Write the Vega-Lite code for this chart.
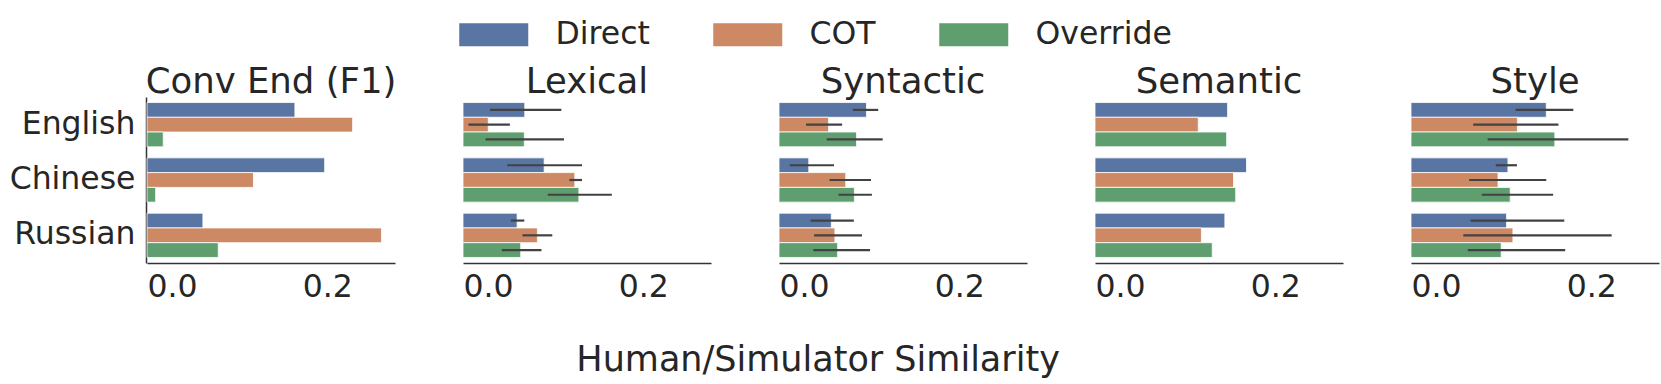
{
  "$schema": "https://vega.github.io/schema/vega-lite/v6.json",
  "padding": {"left": 9, "top": 18, "right": 7, "bottom": 5},
  "data": {"values": [
    {"panel": "Conv End (F1)", "lang": "English", "method": "Direct", "value": 0.164},
    {"panel": "Conv End (F1)", "lang": "English", "method": "COT", "value": 0.228},
    {"panel": "Conv End (F1)", "lang": "English", "method": "Override", "value": 0.018},
    {"panel": "Conv End (F1)", "lang": "Chinese", "method": "Direct", "value": 0.197},
    {"panel": "Conv End (F1)", "lang": "Chinese", "method": "COT", "value": 0.118},
    {"panel": "Conv End (F1)", "lang": "Chinese", "method": "Override", "value": 0.0096},
    {"panel": "Conv End (F1)", "lang": "Russian", "method": "Direct", "value": 0.062},
    {"panel": "Conv End (F1)", "lang": "Russian", "method": "COT", "value": 0.260},
    {"panel": "Conv End (F1)", "lang": "Russian", "method": "Override", "value": 0.079},
    {"panel": "Lexical", "lang": "English", "method": "Direct", "value": 0.0685, "lo": 0.030, "hi": 0.109},
    {"panel": "Lexical", "lang": "English", "method": "COT", "value": 0.028, "lo": 0.006, "hi": 0.052},
    {"panel": "Lexical", "lang": "English", "method": "Override", "value": 0.068, "lo": 0.025, "hi": 0.112},
    {"panel": "Lexical", "lang": "Chinese", "method": "Direct", "value": 0.090, "lo": 0.049, "hi": 0.132},
    {"panel": "Lexical", "lang": "Chinese", "method": "COT", "value": 0.124, "lo": 0.118, "hi": 0.132},
    {"panel": "Lexical", "lang": "Chinese", "method": "Override", "value": 0.1285, "lo": 0.094, "hi": 0.165},
    {"panel": "Lexical", "lang": "Russian", "method": "Direct", "value": 0.060, "lo": 0.053, "hi": 0.068},
    {"panel": "Lexical", "lang": "Russian", "method": "COT", "value": 0.0825, "lo": 0.066, "hi": 0.099},
    {"panel": "Lexical", "lang": "Russian", "method": "Override", "value": 0.064, "lo": 0.043, "hi": 0.087},
    {"panel": "Syntactic", "lang": "English", "method": "Direct", "value": 0.097, "lo": 0.082, "hi": 0.110},
    {"panel": "Syntactic", "lang": "English", "method": "COT", "value": 0.055, "lo": 0.030, "hi": 0.070},
    {"panel": "Syntactic", "lang": "English", "method": "Override", "value": 0.086, "lo": 0.053, "hi": 0.115},
    {"panel": "Syntactic", "lang": "Chinese", "method": "Direct", "value": 0.033, "lo": 0.012, "hi": 0.061},
    {"panel": "Syntactic", "lang": "Chinese", "method": "COT", "value": 0.074, "lo": 0.056, "hi": 0.102},
    {"panel": "Syntactic", "lang": "Chinese", "method": "Override", "value": 0.0836, "lo": 0.066, "hi": 0.103},
    {"panel": "Syntactic", "lang": "Russian", "method": "Direct", "value": 0.058, "lo": 0.035, "hi": 0.083},
    {"panel": "Syntactic", "lang": "Russian", "method": "COT", "value": 0.062, "lo": 0.039, "hi": 0.092},
    {"panel": "Syntactic", "lang": "Russian", "method": "Override", "value": 0.065, "lo": 0.038, "hi": 0.101},
    {"panel": "Semantic", "lang": "English", "method": "Direct", "value": 0.147},
    {"panel": "Semantic", "lang": "English", "method": "COT", "value": 0.1145},
    {"panel": "Semantic", "lang": "English", "method": "Override", "value": 0.146},
    {"panel": "Semantic", "lang": "Chinese", "method": "Direct", "value": 0.168},
    {"panel": "Semantic", "lang": "Chinese", "method": "COT", "value": 0.1536},
    {"panel": "Semantic", "lang": "Chinese", "method": "Override", "value": 0.156},
    {"panel": "Semantic", "lang": "Russian", "method": "Direct", "value": 0.144},
    {"panel": "Semantic", "lang": "Russian", "method": "COT", "value": 0.118},
    {"panel": "Semantic", "lang": "Russian", "method": "Override", "value": 0.130},
    {"panel": "Style", "lang": "English", "method": "Direct", "value": 0.150, "lo": 0.116, "hi": 0.180},
    {"panel": "Style", "lang": "English", "method": "COT", "value": 0.118, "lo": 0.069, "hi": 0.1635},
    {"panel": "Style", "lang": "English", "method": "Override", "value": 0.1595, "lo": 0.085, "hi": 0.241},
    {"panel": "Style", "lang": "Chinese", "method": "Direct", "value": 0.1075, "lo": 0.094, "hi": 0.1175},
    {"panel": "Style", "lang": "Chinese", "method": "COT", "value": 0.0965, "lo": 0.0645, "hi": 0.150},
    {"panel": "Style", "lang": "Chinese", "method": "Override", "value": 0.110, "lo": 0.0785, "hi": 0.1576},
    {"panel": "Style", "lang": "Russian", "method": "Direct", "value": 0.106, "lo": 0.066, "hi": 0.170},
    {"panel": "Style", "lang": "Russian", "method": "COT", "value": 0.113, "lo": 0.058, "hi": 0.2225},
    {"panel": "Style", "lang": "Russian", "method": "Override", "value": 0.100, "lo": 0.063, "hi": 0.171}
  ]},
  "facet": {
    "column": {
      "field": "panel", "type": "nominal",
      "sort": ["Conv End (F1)", "Lexical", "Syntactic", "Semantic", "Style"],
      "header": {"title": null, "labelFontSize": 35.5, "labelFont": "DejaVu Sans", "labelColor": "#262626", "labelPadding": -3}
    }
  },
  "spacing": 67,
  "resolve": {"scale": {"x": "shared", "y": "shared"}},
  "spec": {
    "width": 248,
    "height": 166,
    "layer": [
      {
        "mark": {"type": "bar", "stroke": "white", "strokeWidth": 0.8},
        "encoding": {
          "x": {"field": "value", "type": "quantitative", "scale": {"domain": [0, 0.275], "nice": false}, "axis": {"values": [0, 0.2], "format": ".1f", "title": null, "labelPadding": 8}},
          "y": {"field": "lang", "type": "nominal", "sort": ["English", "Chinese", "Russian"], "scale": {"paddingInner": 0.2, "paddingOuter": 0.1}, "axis": {"title": null}},
          "yOffset": {"field": "method", "type": "nominal", "sort": ["Direct", "COT", "Override"], "scale": {"paddingInner": 0, "paddingOuter": 0}},
          "color": {
            "field": "method", "type": "nominal", "sort": ["Direct", "COT", "Override"],
            "scale": {"domain": ["Direct", "COT", "Override"], "range": ["#5975a4", "#cc8963", "#5f9e6e"]},
            "legend": {
              "title": null, "orient": "none", "legendX": 331, "legendY": -78.5, "direction": "horizontal",
              "symbolType": "M-3,-1L3,-1L3,1L-3,1Z", "symbolSize": 529, "symbolStrokeWidth": 0, "symbolOpacity": 1,
              "labelFontSize": 31.5, "labelFont": "DejaVu Sans", "labelColor": "#262626", "labelOffset": 46, "columnPadding": 63
            }
          }
        }
      },
      {
        "transform": [{"filter": "isValid(datum.lo)"}],
        "mark": {"type": "rule", "color": "#424242", "strokeWidth": 2.2},
        "encoding": {
          "x": {"field": "lo", "type": "quantitative"},
          "x2": {"field": "hi"},
          "y": {"field": "lang", "type": "nominal", "sort": ["English", "Chinese", "Russian"]},
          "yOffset": {"field": "method", "type": "nominal", "sort": ["Direct", "COT", "Override"]}
        }
      }
    ]
  },
  "title": {"text": "Human/Simulator Similarity", "orient": "bottom", "anchor": "middle", "offset": 40, "dx": -16, "fontSize": 35, "font": "DejaVu Sans", "fontWeight": "normal", "color": "#262626"},
  "config": {
    "view": {"stroke": null},
    "axis": {"domainColor": "#333333", "domainWidth": 1.5, "ticks": false, "grid": false, "labelFontSize": 31.5, "labelFont": "DejaVu Sans", "labelColor": "#262626", "labelPadding": 11}
  }
}
